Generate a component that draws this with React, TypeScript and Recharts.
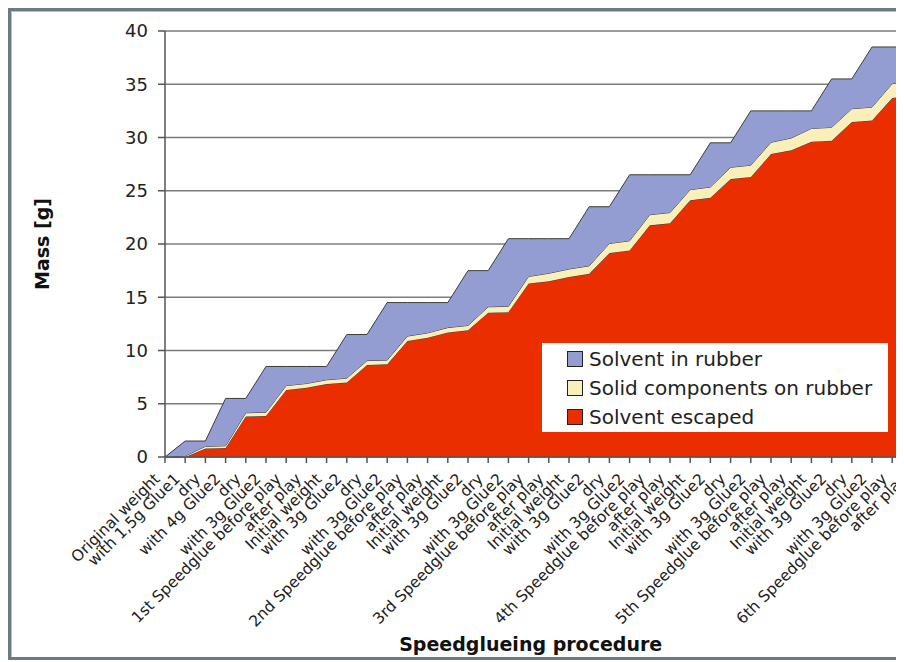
import { Area, AreaChart, CartesianGrid, Legend, XAxis, YAxis } from "recharts";

const categories = [
  "Original weight", "with 1,5g Glue1", "dry", "with 4g Glue2", "dry", "with 3g Glue2",
  "1st Speedglue before play", "after play", "Initial weight", "with 3g Glue2", "dry", "with 3g Glue2",
  "2nd Speedglue before play", "after play", "Initial weight", "with 3g Glue2", "dry", "with 3g Glue2",
  "3rd Speedglue before play", "after play", "Initial weight", "with 3g Glue2", "dry", "with 3g Glue2",
  "4th Speedglue before play", "after play", "Initial weight", "with 3g Glue2", "dry", "with 3g Glue2",
  "5th Speedglue before play", "after play", "Initial weight", "with 3g Glue2", "dry", "with 3g Glue2",
  "6th Speedglue before play", "after play",
];

// grams
const solventEscaped = [
  0, 0, 0.8, 0.85, 3.8, 3.85, 6.3, 6.5, 6.85, 7.0, 8.65, 8.7, 10.9, 11.2, 11.7, 11.9, 13.55, 13.6, 16.3,
  16.5, 16.9, 17.2, 19.15, 19.4, 21.75, 21.95, 24.1, 24.35, 26.1, 26.3, 28.45, 28.8, 29.6, 29.7, 31.45,
  31.6, 33.7, 34.0,
];
const solidComponents = [
  0, 0.1, 0.2, 0.2, 0.35, 0.35, 0.4, 0.4, 0.4, 0.4, 0.4, 0.4, 0.45, 0.45, 0.45, 0.45, 0.55, 0.55, 0.65,
  0.75, 0.75, 0.75, 0.9, 0.9, 1.0, 1.0, 1.0, 1.0, 1.1, 1.1, 1.1, 1.15, 1.25, 1.25, 1.25, 1.25, 1.35, 1.35,
];
const solventInRubber = [
  0, 1.4, 0.5, 4.45, 1.35, 4.3, 1.8, 1.6, 1.25, 4.1, 2.45, 5.4, 3.15, 2.85, 2.35, 5.15, 3.4, 6.35, 3.55,
  3.25, 2.85, 5.55, 3.45, 6.2, 3.75, 3.55, 1.4, 4.15, 2.3, 5.1, 2.95, 2.55, 1.65, 4.55, 2.8, 5.65, 3.45,
  3.15,
];
const yTicks = [0, 5, 10, 15, 20, 25, 30, 35, 40];

const series = [
  { key: "escaped", name: "Solvent escaped", color: "#ea2e00" },
  { key: "solids", name: "Solid components on rubber", color: "#f9f0b9" },
  { key: "rubber", name: "Solvent in rubber", color: "#939dd2" },
];

const data = categories.map((name, i) => ({
  name,
  escaped: solventEscaped[i],
  solids: solidComponents[i],
  rubber: solventInRubber[i],
}));

const FONT = "'DejaVu Sans', Verdana, sans-serif";

function AngledTick({ x, y, payload }: any) {
  return (
    <g transform={`translate(${x - 8},${y + 13}) rotate(-45)`}>
      <text textAnchor="end" dy="0.35em" fontSize={15.5} fontFamily={FONT} fill="#222">
        {payload.value}
      </text>
    </g>
  );
}

function YTitle({ viewBox }: any) {
  const cx = viewBox.x + 34;
  const cy = viewBox.y + viewBox.height / 2;
  return (
    <text
      x={cx}
      y={cy}
      transform={`rotate(-90 ${cx} ${cy})`}
      textAnchor="middle"
      dominantBaseline="central"
      fontSize={19}
      fontWeight="bold"
      fontFamily={FONT}
      fill="#111"
    >
      Mass [g]
    </text>
  );
}

function XTitle({ viewBox }: any) {
  return (
    <text
      x={viewBox.x + viewBox.width / 2 - 8}
      y={viewBox.y + 187}
      textAnchor="middle"
      dominantBaseline="central"
      fontSize={19}
      fontWeight="bold"
      fontFamily={FONT}
      fill="#111"
    >
      Speedglueing procedure
    </text>
  );
}

// legend lists the top layer first, like the stack reads
function LegendBox({ payload }: any) {
  const items = [...series].reverse().map((s) => {
    const hit = (payload || []).find((p: any) => p.value === s.name);
    return { name: hit ? hit.value : s.name, color: s.color };
  });
  return (
    <div style={{ background: "#fff", width: "100%", height: "100%", paddingTop: 1, boxSizing: "border-box" }}>
      {items.map((entry) => (
        <div
          key={entry.name}
          style={{ display: "flex", alignItems: "center", height: 29, paddingLeft: 25 }}
        >
          <span
            style={{
              display: "inline-block",
              width: 14,
              height: 14,
              border: "1.5px solid #222",
              background: entry.color,
              marginRight: 6,
            }}
          />
          <span style={{ fontSize: 20, fontFamily: FONT, color: "#222" }}>{entry.name}</span>
        </div>
      ))}
    </div>
  );
}

export default function App() {
  return (
    <div style={{ position: "relative", width: 896, height: 652, overflow: "hidden", background: "#fff" }}>
      <div
        style={{
          position: "absolute",
          left: 0,
          top: 0,
          width: 1000,
          height: 652,
          boxSizing: "border-box",
          border: "3px solid #6e7983",
          boxShadow: "inset 1px 1px 0 #b8c0c6",
        }}
      />
      <div style={{ position: "absolute", left: 0, top: 0 }}>
        <AreaChart
          width={940}
          height={652}
          data={data}
          margin={{ top: 23, right: 35.6, left: 0, bottom: 13 }}
        >
          <CartesianGrid vertical={false} stroke="#7c7c7c" strokeWidth={1.5} />
          <XAxis
            dataKey="name"
            height={190}
            interval={0}
            stroke="#555"
            strokeWidth={1.5}
            tickSize={6}
            tickMargin={0}
            tick={<AngledTick />}
            label={<XTitle />}
          />
          <YAxis
            width={157}
            domain={[0, 40]}
            ticks={yTicks}
            stroke="#555"
            strokeWidth={1.5}
            tickSize={7}
            tickMargin={10}
            tick={{ fontSize: 18, fontFamily: FONT, fill: "#222" }}
            label={<YTitle />}
          />
          <Legend
            layout="vertical"
            align="center"
            verticalAlign="middle"
            wrapperStyle={{ left: 534, top: 335, width: 346, height: 89 }}
            content={<LegendBox />}
          />
          {series.map((s) => (
            <Area
              key={s.key}
              type="linear"
              dataKey={s.key}
              name={s.name}
              stackId="mass"
              fill={s.color}
              fillOpacity={1}
              stroke="#3d3d3d"
              strokeWidth={1}
              isAnimationActive={false}
            />
          ))}
        </AreaChart>
      </div>
    </div>
  );
}
